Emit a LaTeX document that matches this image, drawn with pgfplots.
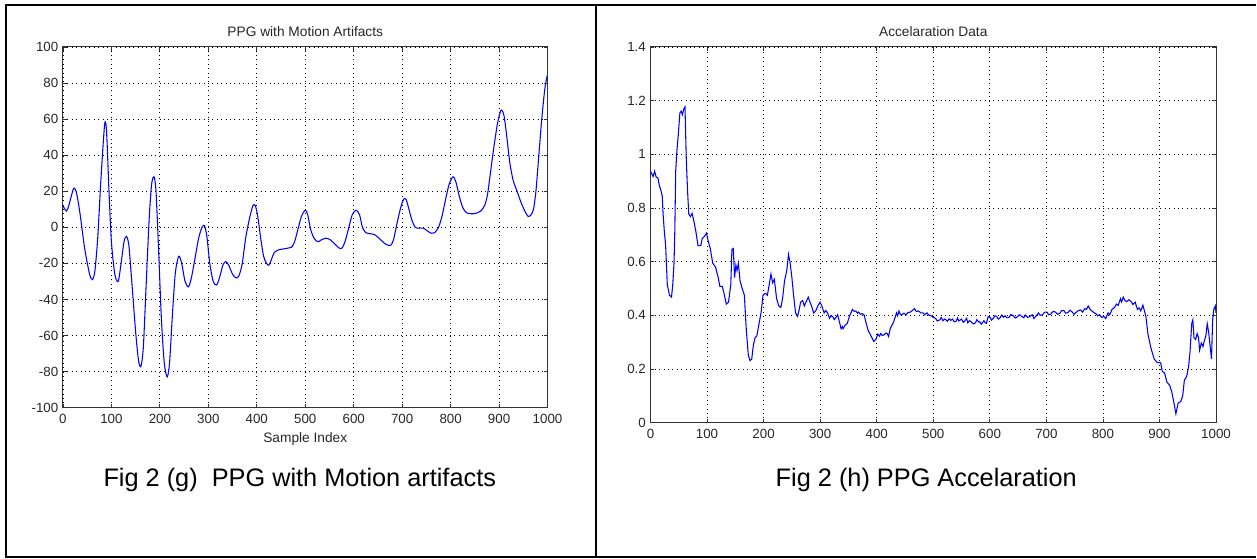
\documentclass[border=0pt]{standalone}
\usepackage{fontspec}
\setmainfont{Liberation Sans}
\usepackage{pgfplots}
\pgfplotsset{compat=1.18}

\definecolor{trace}{RGB}{0,0,255}

\pgfplotsset{
  matlab/.style={
    scale only axis,
    axis line style={black!80, line width=0.7pt},
    grid=major,
    grid style={black, line width=0.6pt, dash pattern=on 0.7pt off 2.6pt},
    tick align=inside,
    major tick length=3pt,
    tick style={black!80, line width=0.6pt},
    tick label style={font=\fontsize{10}{11}\selectfont, text=black!85},
    xticklabel style={yshift=-1.5pt},
    title style={font=\fontsize{10.3}{11}\selectfont, text=black!85, yshift=-2pt},
    label style={font=\fontsize{10.3}{11}\selectfont, text=black!85},
    xtick={0,100,...,1000},
    xticklabels={0,100,200,300,400,500,600,700,800,900,1000},
    xmin=0, xmax=1000,
  },
}

\begin{document}
\begin{tikzpicture}
  % page frame, 1px = 0.75pt, y downwards
  \path (0pt,0pt) rectangle (942.75pt,-419.25pt);
  \draw[line width=1.5pt] (3.75pt,-3.75pt) -- (942.75pt,-3.75pt);
  \draw[line width=1.5pt] (3.75pt,-417.75pt) -- (942.75pt,-417.75pt);
  \draw[line width=1.5pt] (4.5pt,-3.75pt) -- (4.5pt,-417.75pt);
  \draw[line width=1.5pt] (447pt,-3.75pt) -- (447pt,-417.75pt);

  \begin{axis}[matlab,
    at={(47.25pt,-306pt)}, anchor=south west,
    width=363.75pt, height=270.75pt,
    ymin=-100, ymax=100,
    ytick={-100,-80,...,100},
    yticklabels={-100,-80,-60,-40,-20,0,20,40,60,80,100},
    title={PPG with Motion Artifacts},
    xlabel={Sample Index},
    xlabel style={yshift=0pt},
  ]
    \addplot[trace, line width=0.8pt, smooth, tension=0.45] coordinates {
      (0,12) (7,9) (12,12) (22,21.5) (28,19) (35,8) (45,-12) (55,-26)
      (61,-29) (66,-24) (72,-5) (78,25) (86,57) (90,53) (95,20) (100,-8)
      (107,-26) (114,-30) (120,-20) (126,-8) (131,-5) (136,-10) (142,-30)
      (150,-58) (156,-74) (161,-77) (166,-66) (172,-30) (178,5) (183,24)
      (188,28) (192,20) (197,-10) (203,-50) (209,-75) (215,-83) (220,-75)
      (226,-48) (232,-25) (239,-16) (245,-20) (252,-30) (259,-33) (265,-28)
      (272,-18) (280,-6) (287,0) (292,1) (297,-5) (303,-20) (310,-30)
      (317,-32) (323,-28) (330,-21) (336,-19) (342,-21) (350,-26) (357,-28)
      (363,-27) (370,-20) (377,-6) (385,5) (392,12) (397,12) (402,6)
      (408,-6) (414,-16) (420,-20) (425,-21) (430,-18) (436,-14) (445,-12.5)
      (455,-12) (465,-11.5) (472,-11) (478,-8) (485,-1) (492,6) (500,9.5)
      (505,7) (511,-1) (518,-6) (526,-8) (533,-7) (543,-6) (552,-7)
      (562,-9.5) (570,-11.5) (576,-11.5) (582,-8) (590,0) (597,7) (605,9.5)
      (612,7) (618,0) (625,-3) (632,-3.5) (643,-4) (652,-6) (660,-8)
      (667,-9.5) (676,-10) (682,-7) (690,3) (697,11) (703,15.5) (708,15.5)
      (714,10) (720,4) (727,0) (735,-0.5) (744,-0.5) (752,-2) (760,-3.3)
      (767,-3) (775,0) (782,6) (790,16) (797,24) (805,28) (811,25)
      (818,17) (825,11) (833,8) (845,7.5) (855,8) (862,9) (870,12)
      (876,18) (882,30) (890,46) (897,58) (904,65) (910,62) (916,50)
      (922,36) (929,26) (937,20) (945,14) (953,9) (960,6) (966,7)
      (971,10) (976,20) (982,40) (988,60) (994,76) (999,84)
    };
  \end{axis}

  \begin{axis}[matlab,
    at={(488.25pt,-317.25pt)}, anchor=south west,
    width=424.5pt, height=282pt,
    ymin=0, ymax=1.4,
    ytick={0,0.2,...,1.4},
    yticklabels={0,0.2,0.4,0.6,0.8,1,1.2,1.4},
    title={Accelaration Data},
  ]
    \addplot[trace, line width=0.8pt] coordinates {
      (0,0.937) (4.5,0.917) (7.4,0.937) (9.7,0.917) (13.4,0.91) (15.6,0.884)
      (18.6,0.864) (20.8,0.844) (22.3,0.778) (24.5,0.712) (26.8,0.66)
      (29.7,0.515) (33.5,0.475) (37.2,0.468) (39.4,0.515) (41.6,0.594)
      (43,0.712) (44.6,0.937) (46.8,1.016) (49,1.069) (52,1.154) (54.3,1.161)
      (56.5,1.148) (58.7,1.168) (61,1.177) (63.2,0.99) (65.4,0.87) (67.7,0.778)
      (70.6,0.768) (73.6,0.78) (76.6,0.752) (80.3,0.712) (84,0.66) (89,0.66)
      (91.4,0.686) (95,0.693) (99,0.706) (102.6,0.673) (106,0.646) (110,0.594)
      (115,0.58) (119.7,0.541) (122.7,0.508) (127,0.508) (130,0.482)
      (134,0.442) (138,0.449) (142,0.515) (144,0.646) (146.5,0.649)
      (148.7,0.541) (151,0.587) (153,0.567) (155.4,0.594) (158.4,0.528)
      (162,0.501) (166,0.475) (169.5,0.343) (173,0.251) (176,0.231)
      (179,0.237) (182,0.29) (185,0.317) (188,0.323) (192,0.37) (195.5,0.409)
      (199,0.475) (203,0.482) (206.7,0.475) (210,0.515) (213,0.554)
      (216,0.521) (219,0.534) (223,0.462) (226.8,0.435) (230.5,0.429)
      (233.5,0.462) (237,0.528) (241,0.567) (244,0.627) (247,0.594)
      (250,0.541) (253,0.475) (256.5,0.409) (260,0.396) (263,0.422)
      (265.4,0.449) (269,0.455) (272,0.435) (275,0.449) (279,0.468)
      (282,0.449) (284.8,0.435) (288.5,0.409) (292,0.416) (296,0.435)
      (299.6,0.449) (303,0.435) (307,0.409) (310,0.418) (313,0.409) (316.7,0.389)
      (319,0.398) (322,0.396) (325,0.384) (327,0.389) (331,0.402) (334,0.376)
      (337,0.35) (339,0.358) (340.5,0.35)
      (344,0.363) (348,0.37) (351.7,0.396) (357,0.422) (360,0.415) (363,0.416)
      (366,0.408) (368,0.412) (371,0.404) (374,0.406) (377.7,0.402) (381.4,0.37) (385,0.343)
      (390,0.323) (394.8,0.303) (398.5,0.31) (402,0.33) (405,0.322) (407,0.332)
      (410,0.325) (412.6,0.327) (416,0.334) (418.6,0.332) (421,0.321) (423.8,0.35) (430,0.376) (435,0.409)
      (437,0.398) (439.4,0.416) (442,0.403) (444.6,0.402) (448,0.408) (452,0.402)
      (455,0.41) (459.5,0.412) (463,0.418) (467,0.425) (470,0.414)
      (474,0.416) (478,0.409) (482,0.409) (485,0.402) (489,0.409) (492,0.401)
      (496.7,0.398) (500,0.392) (504,0.389) (507,0.379) (511.5,0.383)
      (514,0.392) (517,0.38) (520,0.386) (522.7,0.383) (525,0.378) (528,0.387)
      (531,0.381) (534,0.386) (537,0.376) (540,0.377) (543,0.39) (545,0.379)
      (548,0.383) (550,0.386) (553,0.374) (556,0.38) (559,0.389) (561,0.372)
      (564,0.38) (567,0.376) (571,0.368) (574.7,0.372) (577,0.384) (580,0.376)
      (582,0.376) (585,0.367) (589.6,0.38) (592,0.372) (594,0.37)
      (597,0.395) (600.7,0.392) (603,0.382) (606,0.388) (609,0.398) (612,0.396)
      (615,0.386) (618,0.39) (621,0.401) (624,0.393) (627,0.398)
      (630,0.391) (634,0.392) (637,0.403) (641.6,0.398) (645,0.39) (648,0.393)
      (652,0.402) (656.5,0.396) (660,0.391) (663,0.401) (667,0.392)
      (671,0.396) (675,0.402) (678,0.388) (682,0.398) (686,0.409) (689,0.4) (693,0.402)
      (697,0.412) (701,0.412) (704,0.402) (708,0.405) (712,0.415) (716,0.412)
      (720,0.404) (724,0.408) (727,0.417) (731,0.418) (734,0.408) (738,0.41)
      (742,0.419) (745.7,0.412) (749,0.404) (752,0.41) (756,0.417) (760.6,0.42)
      (764,0.412) (768,0.425) (771,0.422) (774,0.435) (778,0.42)
      (783,0.412) (788,0.405) (791,0.398) (794,0.402) (798,0.392) (801.5,0.396)
      (805,0.388) (809,0.409) (812,0.402) (816,0.422) (820,0.428)
      (824,0.442) (827,0.437) (831,0.462) (833,0.45) (836,0.468) (839,0.455) (842,0.451)
      (846,0.458) (850,0.451) (853,0.44)
      (857,0.449) (861,0.422) (864,0.428) (867,0.416) (870.6,0.438) (876,0.396)
      (879.6,0.33) (885,0.277) (890.7,0.237) (896,0.224) (902,0.224)
      (905,0.191) (909,0.185) (913,0.152) (918,0.139) (922,0.112)
      (925.6,0.073) (929,0.033) (933,0.073) (937.5,0.079) (941,0.099)
      (944,0.158) (948,0.172) (951.6,0.211) (954,0.264) (957,0.369)
      (959,0.383) (961,0.317) (964,0.31) (966.5,0.332) (969,0.317)
      (971,0.27) (974,0.297) (977,0.284) (979,0.303) (982,0.323)
      (984.4,0.369) (987,0.336) (990,0.277) (992,0.237) (994,0.383)
      (996,0.422) (998.7,0.435) (1000,0.409)
    };
  \end{axis}

  \node[font=\fontsize{19}{22}\selectfont] at (225pt,-360pt)
    {Fig 2 (g)\ \ PPG with Motion artifacts};
  \node[font=\fontsize{19}{22}\selectfont] at (695.25pt,-360pt)
    {Fig 2 (h) PPG Accelaration};
\end{tikzpicture}
\end{document}
